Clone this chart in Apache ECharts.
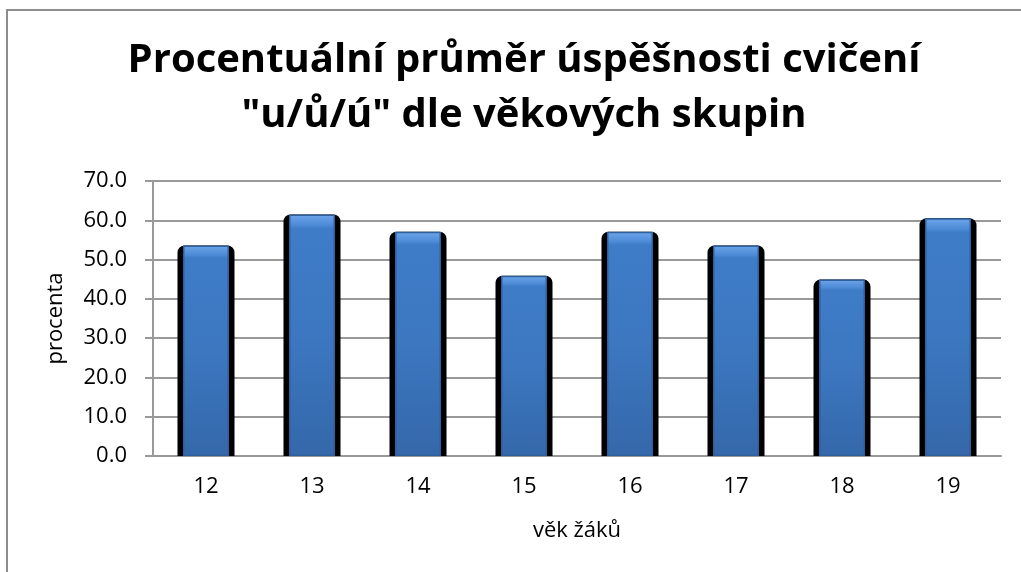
<!DOCTYPE html>
<html>
<head>
<meta charset="utf-8">
<script src="https://cdn.jsdelivr.net/npm/echarts@6/dist/echarts.min.js"></script>
<style>
html, body { margin: 0; padding: 0; background: #fff; }
#main { width: 1021px; height: 572px; }
</style>
</head>
<body>
<div id="main"></div>
<script>
// věkové skupiny a průměrná úspěšnost (%)
var ages = ['12', '13', '14', '15', '16', '17', '18', '19'];
var percent = [53.6, 61.5, 57.1, 45.9, 57.1, 53.6, 44.9, 60.5];
var yTicks = [0, 10, 20, 30, 40, 50, 60, 70];

var font = "'Open Sans', 'Liberation Sans', sans-serif";

var myChart = echarts.init(document.getElementById('main'));
var option = {
    animation: false,
    backgroundColor: '#fff',
    title: {
        text: 'Procentuální průměr úspěšnosti cvičení\n"u/ů/ú" dle věkových skupin',
        left: 519,
        textAlign: 'center',
        top: 28,
        textStyle: {
            fontFamily: font,
            fontWeight: 'bold',
            fontSize: 40,
            lineHeight: 55,
            color: '#000'
        }
    },
    graphic: [{
        type: 'rect',
        shape: { x: 7, y: 10, width: 1030, height: 600 },
        style: { fill: 'none', stroke: '#8c8c8c', lineWidth: 2 },
        silent: true
    }],
    grid: {
        left: 153,
        right: 20,
        top: 181,
        bottom: 116
    },
    xAxis: [{
        type: 'category',
        data: ages,
        name: 'věk žáků',
        nameLocation: 'middle',
        nameGap: 64,
        nameTextStyle: { fontFamily: font, fontSize: 22, color: '#000' },
        axisLine: { lineStyle: { color: '#999', width: 2 } },
        axisTick: { show: false },
        axisLabel: { fontFamily: font, fontSize: 22, color: '#000', margin: 20 }
    }, {
        // skrytá osa pro modré sloupce (aby byly vystředěné na černém stínu)
        type: 'category',
        data: ages,
        position: 'bottom',
        show: false
    }],
    yAxis: {
        type: 'value',
        min: yTicks[0],
        max: yTicks[yTicks.length - 1],
        interval: 10,
        name: 'procenta',
        nameLocation: 'middle',
        nameGap: 86,
        nameTextStyle: { fontFamily: font, fontSize: 22, color: '#000' },
        axisLine: { show: true, lineStyle: { color: '#999', width: 2 } },
        axisTick: { show: true, length: 8, lineStyle: { color: '#999', width: 2 } },
        splitLine: { lineStyle: { color: '#999', width: 2 } },
        axisLabel: {
            fontFamily: font, fontSize: 22, color: '#000', margin: 26,
            formatter: function (v) { return v.toFixed(1); }
        }
    },
    series: [
        {
            // černý stín za sloupcem
            name: 'stin',
            type: 'bar',
            xAxisIndex: 0,
            data: percent,
            barWidth: 57,
            silent: true,
            itemStyle: { color: '#000', borderRadius: [7, 7, 0, 0] }
        },
        {
            name: 'procenta',
            type: 'bar',
            xAxisIndex: 1,
            data: percent,
            barWidth: 46,
            z: 3,
            itemStyle: {
                borderColor: '#2e609d',
                borderWidth: 1.5,
                color: new echarts.graphic.LinearGradient(0, 0, 0, 1, [
                    { offset: 0, color: '#6ea6ea' },
                    { offset: 0.045, color: '#4d8ad6' },
                    { offset: 0.06, color: '#3f7cc8' },
                    { offset: 0.5, color: '#3c77c0' },
                    { offset: 1, color: '#3468aa' }
                ])
            }
        }
    ]
};
myChart.setOption(option);
</script>
</body>
</html>
